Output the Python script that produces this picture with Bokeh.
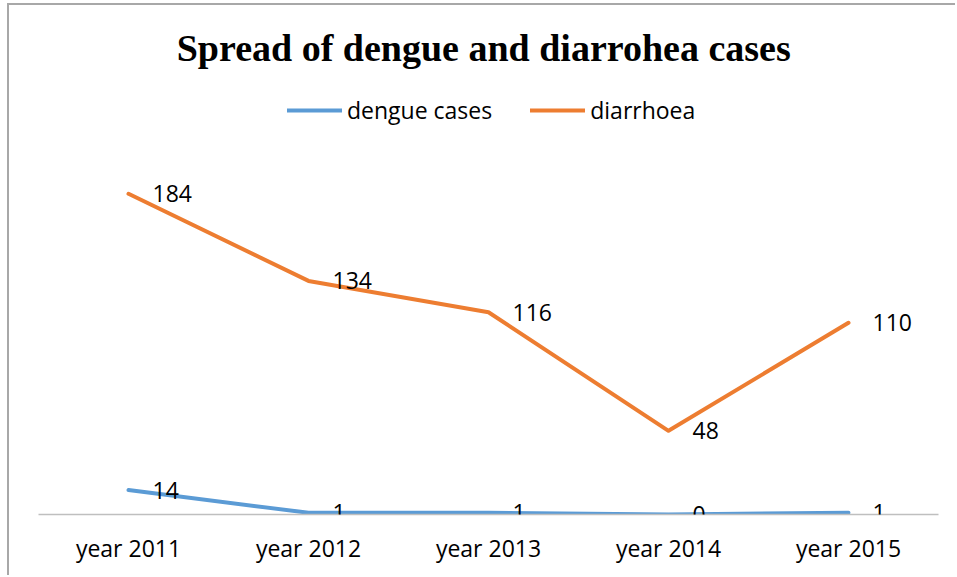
from bokeh.plotting import figure
from bokeh.models import ColumnDataSource, Range1d, FactorRange, LabelSet, Label, Legend, LegendItem
from bokeh.core.properties import value
from bokeh.embed import file_html
from bokeh.resources import INLINE

years = ["year 2011", "year 2012", "year 2013", "year 2014", "year 2015"]
dengue = [14, 1, 1, 0, 1]
diarrhoea = [184, 134, 116, 48, 110]

title_text = "Spread of dengue and diarrohea  cases"
label_font = "Open Sans"

src = ColumnDataSource(dict(x=years, dengue=dengue, diarrhoea=diarrhoea,
                            dl=[str(v) for v in dengue], ol=[str(v) for v in diarrhoea]))

p = figure(width=948, height=572, output_backend="svg", toolbar_location=None,
           x_range=FactorRange(*years, range_padding=0),
           y_range=Range1d(0, 292), y_axis_location=None,
           min_border_left=29, min_border_right=19, min_border_top=0, min_border_bottom=63)
p.outline_line_color = None
p.xgrid.visible = False
p.ygrid.visible = False
p.styles = {"margin-left": "7px", "margin-top": "3px",
            "border-top": "2px solid #A8A8A8", "border-left": "2px solid #A8A8A8"}

ax = p.xaxis[0]
ax.axis_line_color = "#BFBFBF"
ax.axis_line_width = 1.5
ax.major_tick_line_color = None
ax.minor_tick_line_color = None
ax.major_label_text_font = label_font
ax.major_label_text_font_size = "23px"
ax.major_label_text_color = "black"
ax.major_label_standoff = 11

r1 = p.line("x", "dengue", source=src, line_color="#5B9BD5", line_width=4,
            line_cap="round", line_join="round")
r2 = p.line("x", "diarrhoea", source=src, line_color="#ED7D31", line_width=4,
            line_cap="round", line_join="round")

for col, lab in (("dengue", "dl"), ("diarrhoea", "ol")):
    p.add_layout(LabelSet(x="x", y=col, text=lab, source=src, x_offset=24,
                          text_baseline="middle", text_align="left",
                          text_font=value(label_font), text_font_size=value("23px"),
                          text_color="black"))

p.add_layout(Label(x=450, y=467, x_units="screen", y_units="screen", text=title_text,
                   text_align="center", text_baseline="middle",
                   text_font="Liberation Serif", text_font_style="bold",
                   text_font_size="38px", text_color="black"))

legend = Legend(items=[LegendItem(label="dengue cases", renderers=[r1]),
                       LegendItem(label="diarrhoea", renderers=[r2])],
                location=(249, 388), orientation="horizontal",
                glyph_width=55, glyph_height=20, label_standoff=5, spacing=38,
                padding=0, margin=0, border_line_color=None, background_fill_alpha=0,
                label_text_font=label_font, label_text_font_size="23px",
                label_text_color="black")
p.add_layout(legend)

open("out.html", "w").write(file_html(p, INLINE))
